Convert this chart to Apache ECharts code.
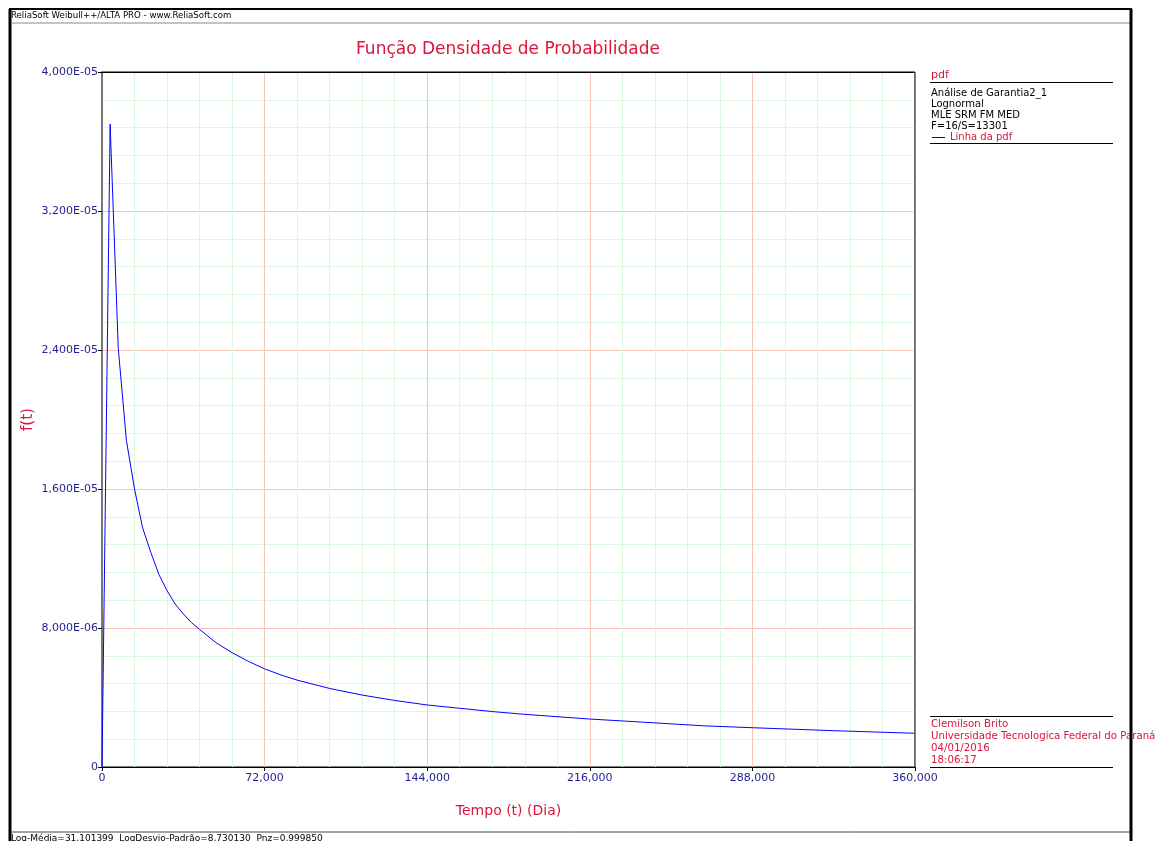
<!DOCTYPE html>
<html>
<head>
<meta charset="utf-8">
<script src="https://cdn.jsdelivr.net/npm/echarts@6/dist/echarts.min.js"></script>
<style>
  html, body { margin: 0; padding: 0; background: #fff; }
  #grafico { width: 1157px; height: 841px; }
</style>
</head>
<body>
<div id="grafico"></div>
<script>
// tempo (dia) e f(t)
var tempo = [0, 3600, 7200, 10800, 14400, 18000, 21600, 25200, 28800, 32400, 36000, 39600, 43200, 50400, 57600,
  64800, 72000, 79200, 86400, 100800, 115200, 129600, 144000, 158400, 172800, 187200, 216000,
  244800, 266400, 288000, 324000, 360000];
var pdf = [0, 3.70e-5, 2.41e-5, 1.88e-5, 1.60e-5, 1.376e-5, 1.236e-5, 1.108e-5, 1.015e-5, 9.38e-6, 8.81e-6, 8.31e-6, 7.92e-6, 7.16e-6, 6.58e-6,
  6.08e-6, 5.65e-6, 5.30e-6, 5.00e-6, 4.52e-6, 4.14e-6, 3.83e-6, 3.57e-6, 3.38e-6, 3.19e-6, 3.03e-6, 2.76e-6,
  2.54e-6, 2.37e-6, 2.26e-6, 2.09e-6, 1.94e-6];

var legendaTopo = ['Análise de Garantia2_1', 'Lognormal', 'MLE SRM FM MED', 'F=16/S=13301'];
var legendaBaixo = ['Clemilson Brito', 'Universidade Tecnologica Federal do Paraná', '04/01/2016', '18:06:17'];

var fonte = 'DejaVu Sans';
var vermelho = '#dc143c';
var azulTexto = '#1f1f8f';

function fmtY(v) {
  if (v === 0) return '0';
  var e = Math.floor(Math.log10(v) + 1e-9);
  var m = v / Math.pow(10, e);
  var s = m.toFixed(3).replace('.', ',');
  var ex = Math.abs(e);
  return s + 'E' + (e < 0 ? '-' : '+') + (ex < 10 ? '0' + ex : ex);
}
function fmtX(v) {
  return Math.round(v).toLocaleString('en-US');
}

var myChart = echarts.init(document.getElementById('grafico'));

var graficos = [
  // moldura
  {type: 'line', shape: {x1: 9, y1: 9, x2: 1132, y2: 9}, style: {stroke: '#000', lineWidth: 2}},
  {type: 'line', shape: {x1: 10, y1: 9, x2: 10, y2: 841}, style: {stroke: '#000', lineWidth: 3}},
  {type: 'line', shape: {x1: 11, y1: 23, x2: 1130, y2: 23}, style: {stroke: '#888', lineWidth: 1}},
  {type: 'line', shape: {x1: 11, y1: 832, x2: 1130, y2: 832}, style: {stroke: '#444', lineWidth: 1}},
  {type: 'text', style: {x: 11, y: 16, text: 'ReliaSoft Weibull++/ALTA PRO - www.ReliaSoft.com', font: '8.6px ' + fonte, fill: '#000', verticalAlign: 'middle'}},
  {type: 'text', style: {x: 11, y: 834, text: 'Log-Média=31,101399  LogDesvio-Padrão=8,730130  Pnz=0,999850', font: '9px ' + fonte, fill: '#000', verticalAlign: 'top'}},
  // título
  {type: 'text', style: {x: 508, y: 50, text: 'Função Densidade de Probabilidade', font: '17px ' + fonte, fill: vermelho, align: 'center', verticalAlign: 'middle'}},
  // legenda superior
  {type: 'text', style: {x: 931, y: 75, text: 'pdf', font: '11px ' + fonte, fill: vermelho, verticalAlign: 'middle'}},
  {type: 'line', shape: {x1: 930, y1: 82.5, x2: 1113, y2: 82.5}, style: {stroke: '#000', lineWidth: 1}},
  {type: 'line', shape: {x1: 930, y1: 143.5, x2: 1113, y2: 143.5}, style: {stroke: '#000', lineWidth: 1}},
  {type: 'line', shape: {x1: 932, y1: 137.5, x2: 945, y2: 137.5}, style: {stroke: '#0000ff', lineWidth: 1}},
  {type: 'text', style: {x: 950, y: 137, text: 'Linha da pdf', font: '10px ' + fonte, fill: vermelho, verticalAlign: 'middle'}},
  // legenda inferior
  {type: 'line', shape: {x1: 930, y1: 716.5, x2: 1113, y2: 716.5}, style: {stroke: '#000', lineWidth: 1}},
  {type: 'line', shape: {x1: 930, y1: 767.5, x2: 1113, y2: 767.5}, style: {stroke: '#000', lineWidth: 1}},
  // bordas do gráfico
  {type: 'line', shape: {x1: 102, y1: 72.5, x2: 915, y2: 72.5}, style: {stroke: '#000', lineWidth: 1}, z: 10},
  {type: 'line', shape: {x1: 915, y1: 72, x2: 915, y2: 767}, style: {stroke: '#666', lineWidth: 1.5}, z: 10}
];
legendaTopo.forEach(function (t, i) {
  graficos.push({type: 'text', style: {x: 931, y: 93 + i * 11, text: t, font: '10px ' + fonte, fill: '#000', verticalAlign: 'middle'}});
});
legendaBaixo.forEach(function (t, i) {
  graficos.push({type: 'text', style: {x: 931, y: 724 + i * 12, text: t, font: '10.2px ' + fonte, fill: vermelho, verticalAlign: 'middle'}});
});
// borda direita grossa por cima do texto
graficos.push({type: 'line', shape: {x1: 1131, y1: 9, x2: 1131, y2: 841}, style: {stroke: '#000', lineWidth: 3}, z: 20});

option = {
  animation: false,
  backgroundColor: '#fff',
  grid: {
    left: 102, top: 72, width: 813, height: 695,
    show: true, borderColor: '#000', borderWidth: 1
  },
  xAxis: {
    type: 'value',
    min: 0, max: 360000, interval: 72000,
    name: 'Tempo (t) (Dia)',
    nameLocation: 'middle',
    nameGap: 37,
    nameTextStyle: {color: vermelho, fontSize: 14, fontFamily: fonte},
    axisLine: {lineStyle: {color: '#000', width: 1}},
    axisTick: {show: true, length: 4, lineStyle: {color: '#000'}},
    axisLabel: {color: azulTexto, fontSize: 11, fontFamily: fonte, margin: 6, formatter: fmtX},
    splitLine: {lineStyle: {color: '#f8c4bc', width: 1}},
    minorTick: {show: false, splitNumber: 5},
    minorSplitLine: {show: true, lineStyle: {color: '#dcf8dc', width: 1}}
  },
  yAxis: {
    type: 'value',
    min: 0, max: 4e-5, interval: 8e-6,
    name: 'f(t)',
    nameLocation: 'middle',
    nameGap: 66,
    nameMoveOverlap: false,
    nameRotate: 90,
    nameTextStyle: {color: vermelho, fontSize: 15, fontFamily: fonte},
    axisLine: {lineStyle: {color: '#777', width: 2}},
    axisTick: {show: true, length: 4, lineStyle: {color: '#000'}},
    axisLabel: {color: azulTexto, fontSize: 11, fontFamily: fonte, margin: 4, formatter: fmtY},
    splitLine: {lineStyle: {color: '#f8c4bc', width: 1}},
    minorTick: {show: false, splitNumber: 5},
    minorSplitLine: {show: true, lineStyle: {color: '#dcf8dc', width: 1}}
  },
  series: [
    {
      name: 'Linha da pdf',
      type: 'line',
      data: tempo.map(function (t, i) { return [t, pdf[i]]; }),
      showSymbol: false,
      lineStyle: {color: '#0000ff', width: 1},
      itemStyle: {color: '#0000ff'},
      z: 5
    }
  ],
  graphic: graficos
};
myChart.setOption(option);
window.addEventListener('resize', function () {
  myChart.resize();
});
</script>
</body>
</html>
